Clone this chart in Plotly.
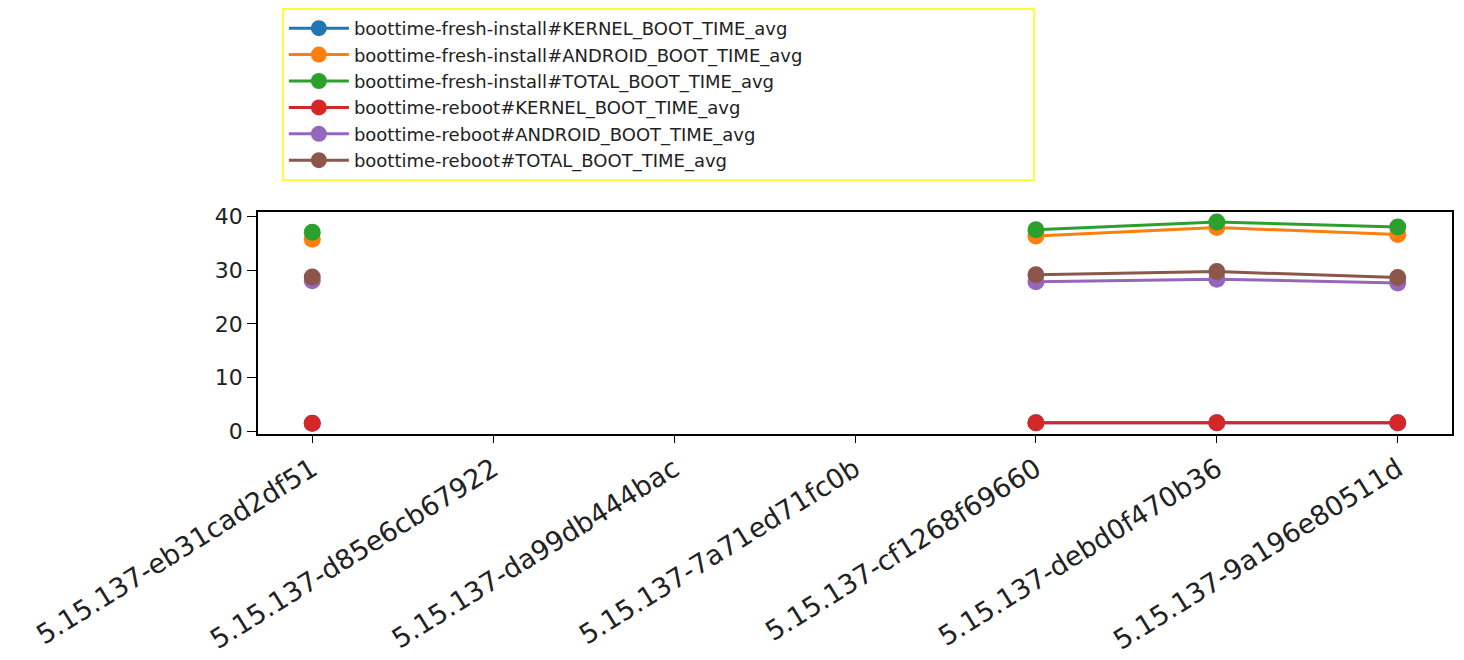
import plotly.graph_objects as go

categories = [
    "5.15.137-eb31cad2df51",
    "5.15.137-d85e6cb67922",
    "5.15.137-da99db444bac",
    "5.15.137-7a71ed71fc0b",
    "5.15.137-cf1268f69660",
    "5.15.137-debd0f470b36",
    "5.15.137-9a196e80511d",
]

fresh_kernel = [1.5, None, None, None, 1.6, 1.6, 1.6]
fresh_android = [35.7, None, None, None, 36.3, 37.9, 36.6]
fresh_total = [37.0, None, None, None, 37.5, 38.9, 38.0]
reboot_kernel = [1.5, None, None, None, 1.6, 1.6, 1.6]
reboot_android = [28.0, None, None, None, 27.8, 28.3, 27.6]
reboot_total = [28.7, None, None, None, 29.1, 29.7, 28.6]

y_ticks = [0, 10, 20, 30, 40]

series_names = [
    "boottime-fresh-install#KERNEL_BOOT_TIME_avg",
    "boottime-fresh-install#ANDROID_BOOT_TIME_avg",
    "boottime-fresh-install#TOTAL_BOOT_TIME_avg",
    "boottime-reboot#KERNEL_BOOT_TIME_avg",
    "boottime-reboot#ANDROID_BOOT_TIME_avg",
    "boottime-reboot#TOTAL_BOOT_TIME_avg",
]
series_values = [fresh_kernel, fresh_android, fresh_total,
                 reboot_kernel, reboot_android, reboot_total]
colors = ["#1f77b4", "#ff7f0e", "#2ca02c", "#d62728", "#9467bd", "#8c564b"]

fig = go.Figure()
for name, vals, c in zip(series_names, series_values, colors):
    fig.add_trace(go.Scatter(
        x=list(range(len(categories))), y=vals, name=name,
        mode="lines+markers",
        line=dict(color=c, width=3),
        marker=dict(color=c, size=17),
        connectgaps=False,
    ))

font_family = "DejaVu Sans"
fig.update_layout(
    width=1464, height=660,
    margin=dict(l=250, r=20, t=204, b=232),
    paper_bgcolor="white", plot_bgcolor="white",
    font=dict(family=font_family, color="#222222"),
    showlegend=True,
    legend=dict(
        orientation="h",
        x=0.02, xref="paper", xanchor="left",
        y=1.0, yref="container", yanchor="top",
        bgcolor="white", bordercolor="#ffff33", borderwidth=2,
        font=dict(family=font_family, size=18, color="#222222"),
        itemwidth=60, tracegroupgap=0,
        entrywidth=674, entrywidthmode="pixels",
    ),
    xaxis=dict(
        range=[-0.3, 6.3],
        tickmode="array",
        tickvals=list(range(len(categories))),
        ticktext=categories,
        tickangle=-32,
        tickfont=dict(size=27, color="#222222"),
        showline=True, linecolor="black", linewidth=1.5, mirror=True,
        ticks="outside", ticklen=7, tickcolor="black",
        showgrid=False, zeroline=False,
    ),
    yaxis=dict(
        range=[-0.48, 40.78],
        tickmode="array",
        tickvals=y_ticks,
        tickfont=dict(size=22, color="#222222"),
        showline=True, linecolor="black", linewidth=1.5, mirror=True,
        ticks="outside", ticklen=9, tickcolor="black",
        showgrid=False, zeroline=False,
    ),
)

fig.write_html("out.html")
